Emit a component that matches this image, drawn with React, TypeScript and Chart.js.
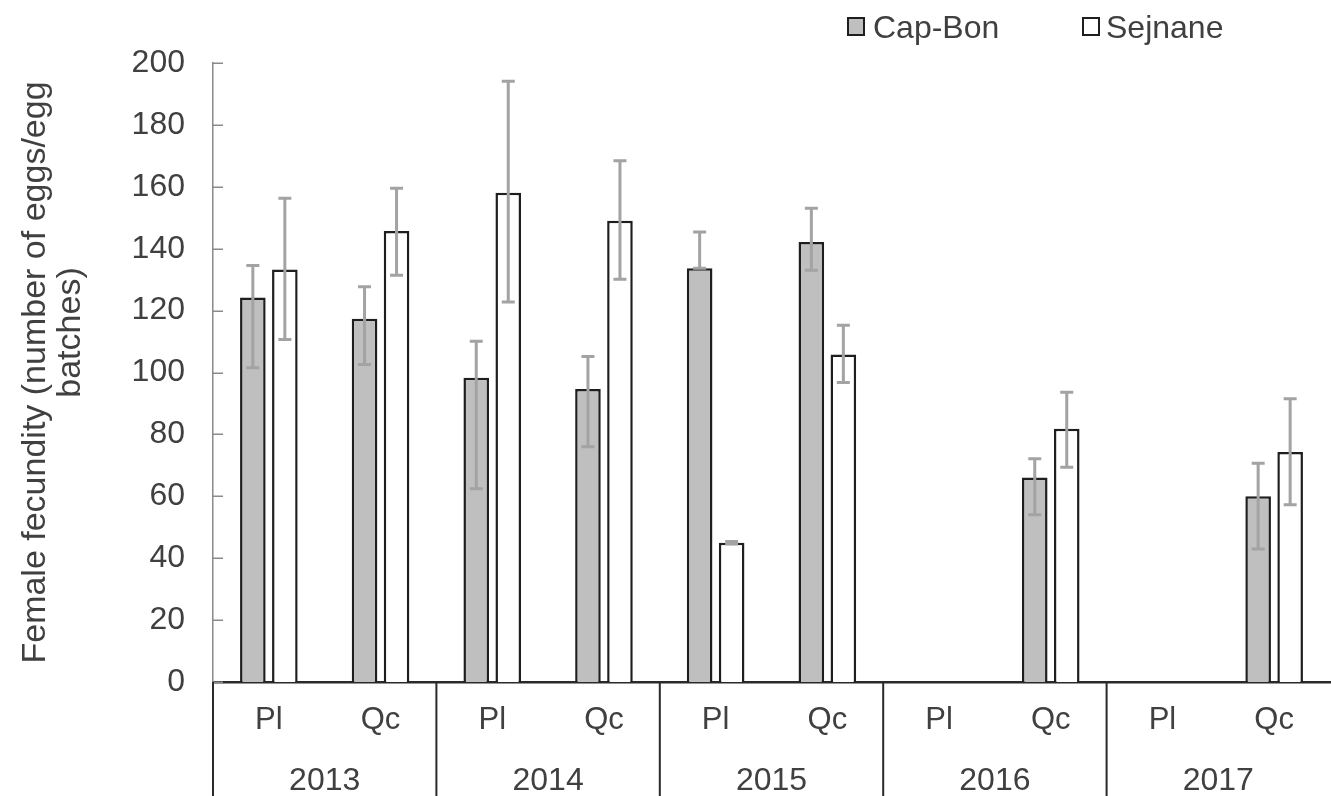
import { useEffect, useRef } from 'react';
import { Chart, registerables } from 'chart.js';

Chart.register(...registerables);

// Sampling sites (Pl, Qc) repeated per year
const categories = ['Pl', 'Qc', 'Pl', 'Qc', 'Pl', 'Qc', 'Pl', 'Qc', 'Pl', 'Qc'];
const years = ['2013', '2014', '2015', '2016', '2017'];

// Mean fecundity and error-bar limits per population
const capBon = [124.2, 117.4, 98.3, 94.7, 133.7, 142.2, null, 66.1, null, 60.0];
const capBonLow = [101.5, 102.6, 62.4, 76.0, 133.7, 133.0, null, 54.0, null, 43.0];
const capBonHigh = [134.6, 127.7, 110.1, 105.2, 145.4, 153.1, null, 72.1, null, 70.7];

const sejnane = [133.3, 145.7, 158.1, 149.0, 45.0, 105.8, null, 81.8, null, 74.3];
const sejnaneLow = [110.7, 131.4, 122.8, 130.1, 44.6, 96.8, null, 69.4, null, 57.3];
const sejnaneHigh = [156.3, 159.5, 194.1, 168.4, 45.4, 115.3, null, 93.6, null, 91.5];

const seriesNames = ['Cap-Bon', 'Sejnane'];
const yTitle = ['Female fecundity (number of eggs/egg', 'batches)'];

const FONT = "'Liberation Sans', Arial, sans-serif";
const TEXT = '#404040';
const GRAY_FILL = '#bfbfbf';
const EDGE = '#1e1e1e';

const errorBarsPlugin = {
  id: 'errorBars',
  afterDatasetsDraw(chart: any) {
    const { ctx } = chart;
    const y = chart.scales.y;
    chart.data.datasets.forEach((ds: any, i: number) => {
      const meta = chart.getDatasetMeta(i);
      meta.data.forEach((bar: any, j: number) => {
        const lo = ds.errLow[j];
        const hi = ds.errHigh[j];
        if (lo == null || hi == null) return;
        const x = bar.x;
        const yl = y.getPixelForValue(lo);
        const yh = y.getPixelForValue(hi);
        ctx.save();
        ctx.strokeStyle = '#a3a3a3';
        ctx.lineWidth = 3;
        ctx.beginPath();
        ctx.moveTo(x, yl);
        ctx.lineTo(x, yh);
        ctx.moveTo(x - 6.5, yl);
        ctx.lineTo(x + 6.5, yl);
        ctx.moveTo(x - 6.5, yh);
        ctx.lineTo(x + 6.5, yh);
        ctx.stroke();
        ctx.restore();
      });
    });
  },
};

const frameDecorPlugin = {
  id: 'frameDecor',
  afterDraw(chart: any) {
    const { ctx, chartArea } = chart;
    const x = chart.scales.x;
    const y = chart.scales.y;
    ctx.save();

    // inside tick marks on the value axis
    ctx.strokeStyle = '#8a8a8a';
    ctx.lineWidth = 1.5;
    y.ticks.forEach((t: any) => {
      const py = Math.round(y.getPixelForValue(t.value)) + 0.25;
      ctx.beginPath();
      ctx.moveTo(chartArea.left, py);
      ctx.lineTo(chartArea.left + 10, py);
      ctx.stroke();
    });

    // value axis title, two rotated lines
    ctx.fillStyle = TEXT;
    ctx.font = `34px ${FONT}`;
    ctx.textAlign = 'center';
    ctx.textBaseline = 'middle';
    const midY = (chartArea.top + chartArea.bottom) / 2;
    const titleLines = [
      { text: yTitle[0], x: 36, y: midY },
      { text: yTitle[1], x: 71, y: midY - 40 },
    ];
    titleLines.forEach((ln) => {
      ctx.save();
      ctx.translate(ln.x, ln.y);
      ctx.rotate(-Math.PI / 2);
      ctx.fillText(ln.text, 0, 0);
      ctx.restore();
    });

    // year group table below the category axis
    const bottom = chart.height;
    ctx.strokeStyle = '#2a2a2a';
    ctx.lineWidth = 2;
    const bounds: number[] = [chartArea.left];
    for (let g = 1; g < years.length; g++) {
      const a = x.getPixelForValue(g * 2 - 1);
      const b = x.getPixelForValue(g * 2);
      bounds.push((a + b) / 2);
    }
    bounds.push(chartArea.right);
    for (let g = 0; g < years.length; g++) {
      const bx = bounds[g];
      ctx.beginPath();
      ctx.moveTo(bx, chartArea.bottom);
      ctx.lineTo(bx, bottom);
      ctx.stroke();
    }
    ctx.fillStyle = TEXT;
    ctx.font = `32px ${FONT}`;
    ctx.textAlign = 'center';
    ctx.textBaseline = 'alphabetic';
    years.forEach((yr, g) => {
      ctx.fillText(yr, (bounds[g] + bounds[g + 1]) / 2, 790);
    });

    // legend
    const items = [
      { name: seriesNames[0], fill: GRAY_FILL, bx: 848, tx: 873 },
      { name: seriesNames[1], fill: '#ffffff', bx: 1083, tx: 1106 },
    ];
    items.forEach((it) => {
      ctx.fillStyle = it.fill;
      ctx.fillRect(it.bx, 18, 16, 17);
      ctx.strokeStyle = EDGE;
      ctx.lineWidth = 2;
      ctx.strokeRect(it.bx, 18, 16, 17);
      ctx.fillStyle = TEXT;
      ctx.font = `32px ${FONT}`;
      ctx.textAlign = 'left';
      ctx.textBaseline = 'alphabetic';
      ctx.fillText(it.name, it.tx, 38);
    });
    ctx.restore();
  },
};

export default function App() {
  const canvasRef = useRef<HTMLCanvasElement>(null);

  useEffect(() => {
    if (!canvasRef.current) return;
    const chart = new Chart(canvasRef.current, {
      type: 'bar',
      data: {
        labels: categories,
        datasets: [
          {
            label: seriesNames[0],
            data: capBon,
            backgroundColor: GRAY_FILL,
            borderColor: EDGE,
            borderWidth: 2.5,
            errLow: capBonLow,
            errHigh: capBonHigh,
            categoryPercentage: 0.573,
            barPercentage: 0.8,
          } as any,
          {
            label: seriesNames[1],
            data: sejnane,
            backgroundColor: '#ffffff',
            borderColor: EDGE,
            borderWidth: 2.5,
            errLow: sejnaneLow,
            errHigh: sejnaneHigh,
            categoryPercentage: 0.573,
            barPercentage: 0.8,
          } as any,
        ],
      },
      options: {
        animation: false,
        responsive: true,
        maintainAspectRatio: false,
        layout: { padding: { top: 63, right: 1, left: 0, bottom: 0 } },
        plugins: {
          legend: { display: false },
          tooltip: { enabled: false },
        },
        scales: {
          x: {
            grid: { display: false, drawTicks: false },
            border: { display: true, color: '#2a2a2a', width: 2.5 },
            ticks: {
              color: TEXT,
              font: { family: FONT, size: 31 },
              padding: 20,
              maxRotation: 0,
              autoSkip: false,
            },
            afterFit(scale: any) {
              scale.height = 114;
            },
          },
          y: {
            min: 0,
            max: 200,
            grid: { display: false, drawTicks: false },
            border: { display: true, color: '#8a8a8a', width: 1.5 },
            ticks: {
              stepSize: 20,
              color: TEXT,
              font: { family: FONT, size: 32 },
              padding: 28,
            },
            afterFit(scale: any) {
              scale.width = 213;
            },
          },
        },
      },
      plugins: [errorBarsPlugin, frameDecorPlugin],
    });
    return () => chart.destroy();
  }, []);

  return (
    <div style={{ position: 'fixed', left: 0, top: 0, width: 1331, height: 796, background: '#ffffff' }}>
      <canvas ref={canvasRef} />
    </div>
  );
}
